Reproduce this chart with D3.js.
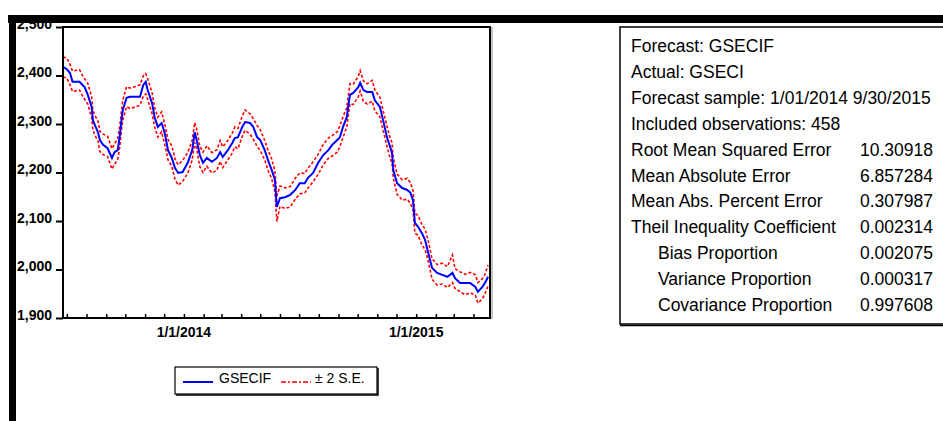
<!DOCTYPE html>
<html>
<head>
<meta charset="utf-8">
<script src="https://cdn.jsdelivr.net/npm/d3@7"></script>
<style>
  body { margin: 0; background: #fff; }
  svg { display: block; font-family: "Liberation Sans", Arial, sans-serif; }
  .ylab, .xlab { font-weight: bold; font-size: 14px; }
  .stat { font-size: 17.5px; }
  .leg { font-size: 14px; }
</style>
</head>
<body>
<div id="chart"></div>
<script>
const dates = [
  "2013-06-25","2013-07-01","2013-07-06","2013-07-10","2013-07-21","2013-07-26","2013-07-29","2013-08-03","2013-08-09","2013-08-11",
  "2013-08-14","2013-08-19","2013-08-22","2013-08-27","2013-09-03","2013-09-10","2013-09-14","2013-09-19","2013-09-22","2013-09-25",
  "2013-09-27","2013-10-03","2013-10-08","2013-10-19","2013-10-24","2013-10-29","2013-11-02","2013-11-05","2013-11-12","2013-11-16",
  "2013-11-21","2013-11-27","2013-12-02","2013-12-07","2013-12-13","2013-12-18","2013-12-23","2013-12-30","2014-01-07","2014-01-14",
  "2014-01-18","2014-01-21","2014-01-26","2014-01-31","2014-02-06","2014-02-14","2014-02-22","2014-02-27","2014-03-03","2014-03-11",
  "2014-03-18","2014-03-22","2014-03-27","2014-04-02","2014-04-07","2014-04-15","2014-04-20","2014-04-26","2014-05-01","2014-05-08",
  "2014-05-13","2014-05-19","2014-05-24","2014-05-27","2014-06-01","2014-06-09","2014-06-17","2014-06-25","2014-07-02","2014-07-10",
  "2014-07-15","2014-07-23","2014-07-31","2014-08-08","2014-08-16","2014-08-22","2014-08-30","2014-09-03","2014-09-08","2014-09-14",
  "2014-09-16","2014-09-19","2014-09-24","2014-10-02","2014-10-05","2014-10-10","2014-10-16","2014-10-24","2014-10-28","2014-11-05",
  "2014-11-10","2014-11-16","2014-11-21","2014-11-24","2014-11-26","2014-12-02","2014-12-10","2014-12-18","2014-12-23","2014-12-27",
  "2014-12-30","2015-01-04","2015-01-10","2015-01-15","2015-01-20","2015-01-26","2015-02-03","2015-02-11","2015-02-19","2015-02-27",
  "2015-03-03","2015-03-11","2015-03-19","2015-03-27","2015-04-04","2015-04-08","2015-04-15","2015-04-19","2015-04-24"
];

// GSECIF forecast
const forecast = [
  2418,2413,2405,2387,2387,2380,2376,2360,2335,2308,
  2298,2283,2267,2257,2250,2230,2242,2246,2273,2308,
  2329,2354,2356,2356,2356,2380,2387,2370,2343,2314,
  2294,2302,2281,2246,2230,2209,2199,2201,2220,2246,
  2283,2267,2236,2220,2230,2222,2230,2242,2232,2246,
  2261,2271,2273,2292,2304,2302,2294,2273,2267,2246,
  2226,2205,2185,2129,2147,2149,2154,2164,2178,2178,
  2189,2199,2220,2236,2246,2257,2267,2272,2294,2314,
  2335,2360,2364,2376,2385,2370,2366,2366,2349,2335,
  2308,2273,2253,2240,2205,2178,2168,2164,2158,2143,
  2096,2088,2075,2061,2034,2003,1993,1989,1985,1993,
  1982,1972,1972,1972,1964,1954,1964,1972,1985
];

// +2 S.E. band
const upper = [
  2438,2436,2423,2409,2412,2399,2393,2384,2356,2328,
  2318,2306,2285,2279,2275,2249,2259,2270,2294,2328,
  2349,2377,2374,2378,2381,2399,2404,2394,2364,2334,
  2314,2325,2299,2268,2255,2228,2216,2225,2241,2266,
  2303,2290,2254,2242,2255,2241,2247,2266,2253,2266,
  2281,2294,2291,2314,2329,2321,2311,2297,2288,2266,
  2246,2228,2203,2151,2172,2168,2171,2188,2199,2198,
  2209,2222,2238,2258,2271,2276,2284,2296,2315,2334,
  2355,2383,2382,2398,2410,2389,2383,2390,2370,2355,
  2328,2296,2271,2262,2230,2197,2185,2188,2179,2163,
  2116,2111,2093,2083,2059,2022,2010,2013,2006,2030,
  2002,1995,1990,1994,1989,1973,1981,1990,2009
];

// -2 S.E. band
const lower = [
  2397,2395,2381,2367,2370,2357,2351,2341,2313,2288,
  2277,2265,2243,2237,2233,2207,2217,2227,2251,2288,
  2308,2336,2332,2336,2339,2357,2362,2351,2321,2294,
  2273,2284,2257,2226,2213,2186,2174,2182,2198,2226,
  2262,2249,2212,2200,2213,2199,2205,2223,2210,2226,
  2240,2253,2249,2272,2287,2279,2269,2254,2245,2226,
  2205,2187,2161,2099,2130,2126,2129,2145,2156,2158,
  2168,2181,2196,2216,2229,2234,2242,2253,2272,2294,
  2314,2342,2340,2356,2368,2347,2341,2347,2327,2315,
  2287,2255,2229,2220,2188,2155,2143,2145,2136,2123,
  2075,2070,2051,2041,2017,1980,1968,1970,1963,1973,
  1961,1954,1948,1952,1947,1931,1939,1950,1966
];

const yTicks = [1900, 2000, 2100, 2200, 2300, 2400, 2500];
const xLabelDates = ["2014-01-01", "2015-01-01"];

const statLabels = [
  "Forecast: GSECIF",
  "Actual: GSECI",
  "Forecast sample: 1/01/2014 9/30/2015",
  "Included observations: 458",
  "Root Mean Squared Error",
  "Mean Absolute Error",
  "Mean Abs. Percent Error",
  "Theil Inequality Coefficient",
  "Bias Proportion",
  "Variance Proportion",
  "Covariance Proportion"
];
const statValues = ["", "", "", "", "10.30918", "6.857284", "0.307987", "0.002314", "0.002075", "0.000317", "0.997608"];

const legendLabels = ["GSECIF", "\u00b1 2 S.E."];

const W = 943, H = 421;
const plot = {left: 63, top: 27, right: 490, bottom: 318};

const svg = d3.select("#chart")
  .append("svg")
    .attr("width", W)
    .attr("height", H);

const parse = d3.timeParse("%Y-%m-%d");
const data = dates.map(function(d, i) {
  return {date: parse(d), f: forecast[i], hi: upper[i], lo: lower[i]};
});

const xScale = d3.scaleTime()
  .domain([parse("2013-06-25"), parse("2015-04-27")])
  .range([plot.left, plot.right]);

const yScale = d3.scaleLinear()
  .domain([1900, 2500])
  .range([plot.bottom, plot.top]);

// clip
svg.append("clipPath").attr("id", "clip")
  .append("rect")
    .attr("x", plot.left).attr("y", plot.top)
    .attr("width", plot.right - plot.left).attr("height", plot.bottom - plot.top);

// y axis
const yAxis = svg.append("g")
  .attr("transform", "translate(" + plot.left + ",0)")
  .call(d3.axisLeft(yScale).tickValues(yTicks).tickSize(7).tickPadding(4)
        .tickFormat(d3.format(",")));
yAxis.select(".domain").remove();
yAxis.selectAll("line").attr("stroke", "#000").attr("stroke-width", 2);
yAxis.selectAll("text")
  .attr("class", "ylab")
  .attr("fill", "#000")
  .attr("dy", "1")
  .style("font-family", "Liberation Sans, Arial, sans-serif");

// x axis: monthly inner ticks
const xAxis = svg.append("g")
  .attr("transform", "translate(0," + plot.bottom + ")")
  .call(d3.axisBottom(xScale).ticks(d3.timeMonth.every(1)).tickSize(-4).tickFormat(""));
xAxis.select(".domain").remove();
xAxis.selectAll("line").attr("stroke", "#000").attr("stroke-width", 1.5);

// x labels
const fmt = d3.timeFormat("%-m/%-d/%Y");
svg.append("g")
  .selectAll("text")
  .data(xLabelDates)
  .enter()
  .append("text")
    .attr("class", "xlab")
    .attr("x", function(d) { return xScale(parse(d)); })
    .attr("y", 337)
    .attr("text-anchor", "middle")
    .text(function(d) { return fmt(parse(d)); });

// lines
const lineOf = function(key) {
  return d3.line()
    .x(function(d) { return xScale(d.date); })
    .y(function(d) { return yScale(d[key]); });
};

const lines = svg.append("g").attr("clip-path", "url(#clip)");
["hi", "lo"].forEach(function(k) {
  lines.append("path")
    .datum(data)
    .attr("fill", "none")
    .attr("stroke", "#ff0000")
    .attr("stroke-width", 1.6)
    .attr("stroke-dasharray", "3,2")
    .attr("d", lineOf(k));
});
lines.append("path")
  .datum(data)
  .attr("fill", "none")
  .attr("stroke", "#0000ff")
  .attr("stroke-width", 2)
  .attr("d", lineOf("f"));

// plot frame
svg.append("rect")
  .attr("x", plot.left).attr("y", plot.top)
  .attr("width", plot.right - plot.left).attr("height", plot.bottom - plot.top)
  .attr("fill", "none")
  .attr("stroke", "#000")
  .attr("stroke-width", 2);
svg.append("line")
  .attr("x1", plot.right + 2).attr("x2", plot.right + 2)
  .attr("y1", plot.top).attr("y2", plot.bottom + 1)
  .attr("stroke", "#888").attr("stroke-width", 1);

// heavy black bars (window edges)
svg.append("rect").attr("x", 8).attr("y", 15).attr("width", W - 8).attr("height", 8).attr("fill", "#000");
svg.append("rect").attr("x", 9).attr("y", 15).attr("width", 7).attr("height", H - 15).attr("fill", "#000");

// legend
const leg = svg.append("g");
leg.append("rect")
  .attr("x", 175).attr("y", 367).attr("width", 202).attr("height", 27)
  .attr("fill", "#fff").attr("stroke", "#000").attr("stroke-width", 1.2);
leg.append("path")
  .attr("d", "M378,368V395H176")
  .attr("fill", "none").attr("stroke", "#000").attr("stroke-width", 1.5);
leg.append("line")
  .attr("x1", 183).attr("x2", 213).attr("y1", 382).attr("y2", 382)
  .attr("stroke", "#0000ff").attr("stroke-width", 2);
leg.append("line")
  .attr("x1", 281).attr("x2", 311).attr("y1", 382).attr("y2", 382)
  .attr("stroke", "#ff0000").attr("stroke-width", 1.6).attr("stroke-dasharray", "5,2,2,2");
leg.append("text").attr("class", "leg").attr("x", 219).attr("y", 383).text(legendLabels[0]);
leg.append("text").attr("class", "leg").attr("x", 315).attr("y", 383).text(legendLabels[1]);

// statistics box
const box = svg.append("g");
box.append("path")
  .attr("d", "M" + (W + 2) + ",27H620V324H" + (W + 2))
  .attr("fill", "none").attr("stroke", "#000").attr("stroke-width", 1.5);
box.append("line")
  .attr("x1", 620).attr("x2", W).attr("y1", 325.5).attr("y2", 325.5)
  .attr("stroke", "#000").attr("stroke-width", 1.5);

const rowY = function(i) { return 52 + i * 25.9; };
box.selectAll(".slab")
  .data(statLabels)
  .enter()
  .append("text")
    .attr("class", "stat")
    .attr("x", function(d) { return /Proportion$/.test(d) ? 658 : 631; })
    .attr("y", function(d, i) { return rowY(i); })
    .text(function(d) { return d; });
box.selectAll(".sval")
  .data(statValues)
  .enter()
  .append("text")
    .attr("class", "stat")
    .attr("x", 933)
    .attr("y", function(d, i) { return rowY(i); })
    .attr("text-anchor", "end")
    .text(function(d) { return d; });
</script>
</body>
</html>
